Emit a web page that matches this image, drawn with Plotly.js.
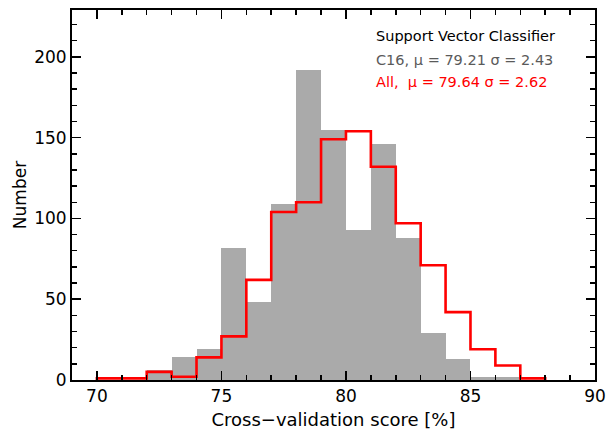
<!DOCTYPE html>
<html><head><meta charset="utf-8">
<script src="https://cdn.plot.ly/plotly-3.0.1.min.js"></script>
<style>html,body{margin:0;padding:0;background:#fff}</style>
</head><body>
<div id="chart" style="width:613px;height:433px"></div>
<script>
// Bin left edges (width 1)
var c16BinStarts = [72,73,74,75,76,77,78,79,80,81,82,83,84,85,86];
var c16Counts    = [6,14,19,82,48,109,192,155,93,146,88,29,13,2,2];

var allBinStarts = [70,71,72,73,74,75,76,77,78,79,80,81,82,83,84,85,86,87];
var allCounts    = [1,1,5,2,14,27,62,104,110,149,154,132,97,71,42,19,9,1];

var binWidth = 1;
var xTickVals = [70,75,80,85,90];

// Build step outline for "All"
var stepX = [allBinStarts[0]], stepY = [0];
for (var i = 0; i < allBinStarts.length; i++) {
  stepX.push(allBinStarts[i]); stepY.push(allCounts[i]);
  stepX.push(allBinStarts[i] + binWidth); stepY.push(allCounts[i]);
}
stepX.push(allBinStarts[allBinStarts.length-1] + binWidth); stepY.push(0);

var traces = [
  {type:'bar', x:c16BinStarts.map(function(v){return v+binWidth/2;}), y:c16Counts, width:binWidth,
   marker:{color:'#aaaaaa', line:{width:0}}, hoverinfo:'skip'},
  {type:'scatter', mode:'lines', x:stepX, y:stepY, line:{color:'#ff0000', width:2.6}, hoverinfo:'skip'}
];

var axFont = {family:'DejaVu Sans, sans-serif', size:17, color:'#000'};
var annFam = 'DejaVu Sans, sans-serif';
var layout = {
  width:613, height:433,
  margin:{l:72, r:18, t:10, b:53},
  paper_bgcolor:'#fff', plot_bgcolor:'#fff',
  showlegend:false,
  bargap:0,
  xaxis:{range:[69,90], tickvals:xTickVals, ticks:'inside', ticklen:9, tickwidth:1.5, tickcolor:'#000',
    showline:true, linecolor:'#000', linewidth:2, mirror:'ticks', showgrid:false, zeroline:false,
    minor:{dtick:1, tick0:0, ticks:'inside', ticklen:5, tickwidth:1.5, tickcolor:'#000', showgrid:false},
    tickfont:axFont,
    title:{text:'Cross\u2212validation score [%]', font:{family:axFont.family, size:18, color:'#000'}, standoff:8}},
  yaxis:{range:[0,229], dtick:50, tick0:0, ticks:'inside', ticklen:9, tickwidth:1.5, tickcolor:'#000',
    showline:true, linecolor:'#000', linewidth:2, mirror:'ticks', showgrid:false, zeroline:false,
    minor:{dtick:10, ticks:'inside', ticklen:5, tickwidth:1.5, tickcolor:'#000', showgrid:false},
    tickfont:axFont,
    title:{text:'Number', font:{family:axFont.family, size:17, color:'#000'}, standoff:3}},
  annotations:[
    {xref:'paper', yref:'paper', x:0.578, y:0.929, xanchor:'left', yanchor:'middle', showarrow:false,
     text:'Support Vector Classifier', font:{family:annFam, size:14.5, color:'#000'}},
    {xref:'paper', yref:'paper', x:0.578, y:0.864, xanchor:'left', yanchor:'middle', showarrow:false,
     text:'C16, \u03bc = 79.21 \u03c3 = 2.43', font:{family:annFam, size:14.5, color:'#5a5a5a'}},
    {xref:'paper', yref:'paper', x:0.578, y:0.805, xanchor:'left', yanchor:'middle', showarrow:false,
     text:'All,  \u03bc = 79.64 \u03c3 = 2.62', font:{family:annFam, size:14.5, color:'#ff0000'}}
  ]
};
Plotly.newPlot('chart', traces, layout, {staticPlot:true, displayModeBar:false});
</script>
</body></html>
